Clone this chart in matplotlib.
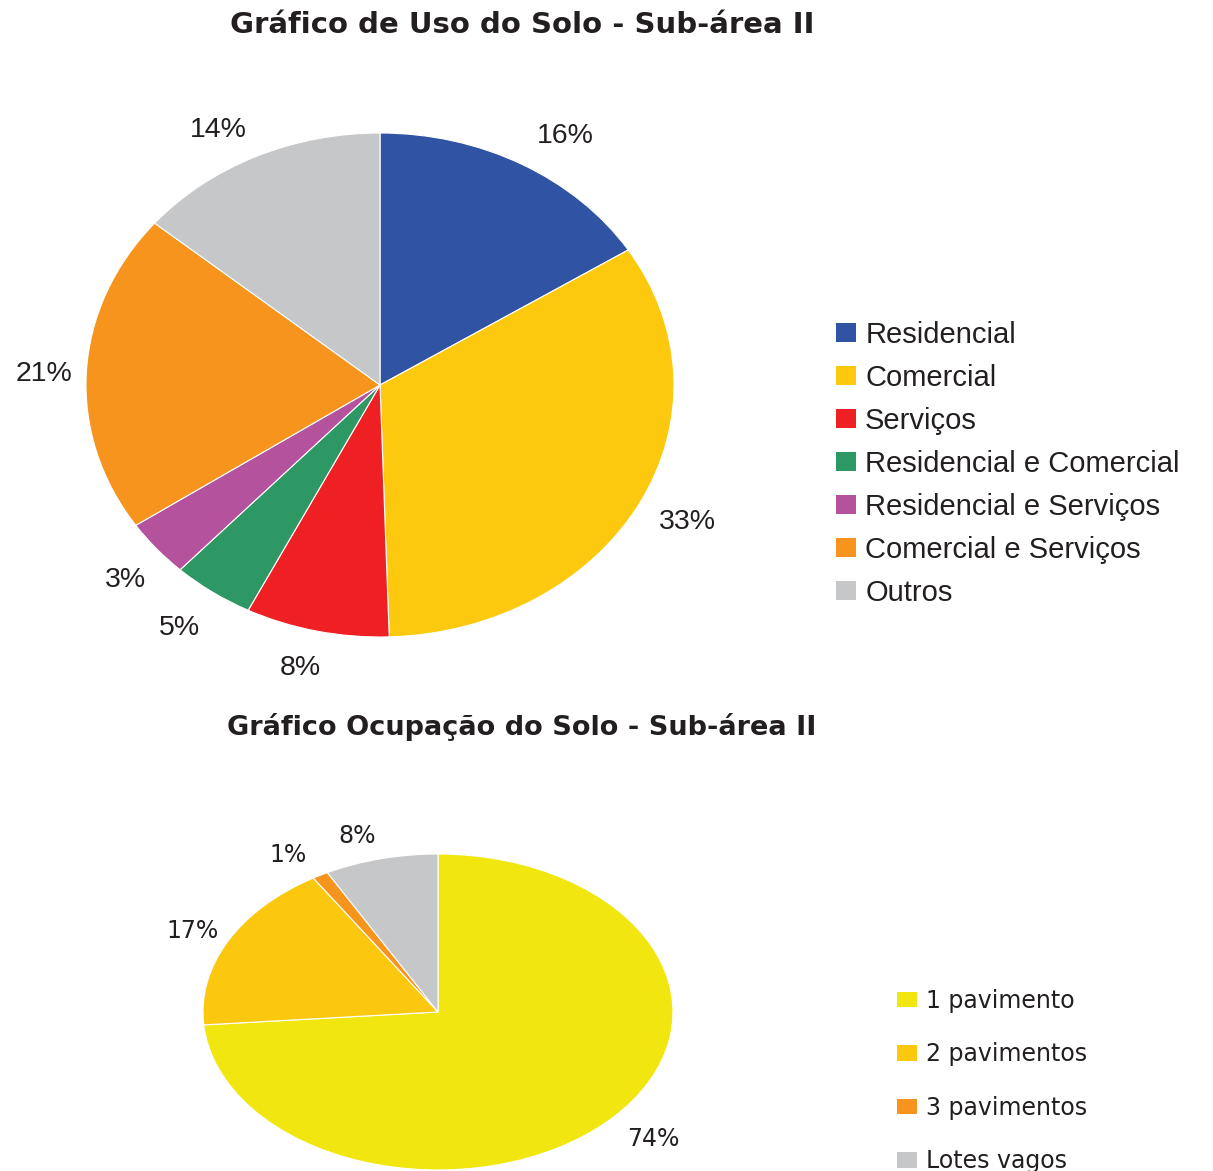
import matplotlib
matplotlib.use('Agg')
import matplotlib.pyplot as plt
from matplotlib.patches import Patch
import numpy as np

# Uso do solo (top chart)
uso_labels = ["Residencial", "Comercial", "Serviços", "Residencial e Comercial",
              "Residencial e Serviços", "Comercial e Serviços", "Outros"]
uso_values = [16.0, 33.5, 7.9, 4.5, 3.7, 20.5, 13.9]
uso_text = ["16%", "33%", "8%", "5%", "3%", "21%", "14%"]
uso_colors = ["#3053a4", "#fcc90f", "#ee2024", "#2e9865", "#b5529e", "#f7941d", "#c6c7c9"]

# Ocupacao do solo (bottom chart)
ocup_labels = ["1 pavimento", "2 pavimentos", "3 pavimentos", "Lotes vagos"]
ocup_values = [73.7, 17.4, 1.1, 7.8]
ocup_text = ["74%", "17%", "1%", "8%"]
ocup_colors = ["#f1e610", "#fcc70f", "#f7941d", "#c6c7c9"]

txt = "#231f20"
W, H = 1213, 1171
fig = plt.figure(figsize=(W / 100, H / 100), dpi=100)

def box(l, t, r, b):
    return [l / W, 1 - b / H, (r - l) / W, (b - t) / H]

# top pie
ax1 = fig.add_axes(box(86, 133, 674, 637))
ax1.pie(uso_values, colors=uso_colors, startangle=90, counterclock=False,
        wedgeprops=dict(edgecolor="white", linewidth=0.8))
ax1.set_aspect('auto')
ax1.set_xlim(-1, 1)
ax1.set_ylim(-1, 1)
cum = np.cumsum([0] + uso_values)
# small nudges of the labels (axes units)
offs1 = [(0.07, -0.03), (0.02, 0.0), (-0.02, 0.01), (-0.02, -0.01), (0.017, -0.02), (0.014, -0.02), (-0.058, -0.04)]
for i, t in enumerate(uso_text):
    mid = np.deg2rad(90 - 3.6 * (cum[i] + cum[i + 1]) / 2)
    ax1.text(1.16 * np.cos(mid) + offs1[i][0], 1.16 * np.sin(mid) + offs1[i][1], t,
             ha='center', va='center', fontsize=20.5, color=txt, family='Liberation Sans')

fig.text(522 / W, 1 - 25 / H, "Gráfico de Uso do Solo - Sub-área II", ha='center', va='center',
         fontsize=21, fontweight='bold', color=txt, family='DejaVu Sans')

handles1 = [Patch(facecolor=c, edgecolor='none') for c in uso_colors]
fig.legend(handles1, uso_labels, loc='center left', bbox_to_anchor=(836 / W, 1 - 464 / H),
           frameon=False, handlelength=0.7, handleheight=0.63, borderpad=0, borderaxespad=0,
           handletextpad=0.3, labelspacing=0.515, labelcolor=txt,
           prop=dict(family='Liberation Sans', size=21))

# bottom pie
ax2 = fig.add_axes(box(203, 854, 673, 1170))
ax2.pie(ocup_values, colors=ocup_colors, startangle=90, counterclock=False,
        wedgeprops=dict(edgecolor="white", linewidth=0.8))
ax2.set_aspect('auto')
ax2.set_xlim(-1, 1)
ax2.set_ylim(-1, 1)
cum2 = np.cumsum([0] + ocup_values)
offs2 = [(0.054, -0.025), (0.0, 0.0), (-0.05, 0.0), (-0.06, 0.0)]
for i, t in enumerate(ocup_text):
    mid = np.deg2rad(90 - 3.6 * (cum2[i] + cum2[i + 1]) / 2)
    ax2.text(1.17 * np.cos(mid) + offs2[i][0], 1.15 * np.sin(mid) + offs2[i][1], t,
             ha='center', va='center', fontsize=17, color=txt, family='DejaVu Sans')

fig.text(522 / W, 1 - 727 / H, "Gráfico Ocupação do Solo - Sub-área II", ha='center', va='center',
         fontsize=19.5, fontweight='bold', color=txt, family='DejaVu Sans')

handles2 = [Patch(facecolor=c, edgecolor='none') for c in ocup_colors]
fig.legend(handles2, ocup_labels, loc='center left', bbox_to_anchor=(897 / W, 1 - 1081 / H),
           frameon=False, handlelength=0.85, handleheight=0.64, borderpad=0, borderaxespad=0,
           handletextpad=0.38, labelspacing=1.25, labelcolor=txt,
           prop=dict(family='DejaVu Sans', size=17))

fig.savefig("out.png", dpi=100)
